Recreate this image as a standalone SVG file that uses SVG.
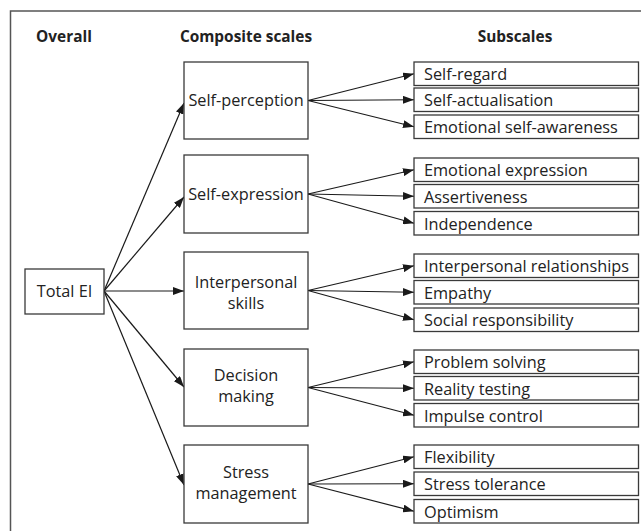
<svg xmlns="http://www.w3.org/2000/svg" width="641" height="531" viewBox="0 0 641 531">
<defs>
<marker id="ah" viewBox="0 0 11 8" refX="11" refY="4" markerWidth="11" markerHeight="8" markerUnits="userSpaceOnUse" orient="auto">
<path d="M0,0 L11,4 L0,8 Z" fill="#1a1a1a"/>
</marker>
<style>
.box{fill:#fff;stroke:#3a3a3a;stroke-width:1.3}
.t{font-family:"Open Sans","Liberation Sans",sans-serif;font-size:16.3px;fill:#222}
.c{text-anchor:middle}
.h{font-family:"Open Sans","Liberation Sans",sans-serif;font-size:15.4px;font-weight:bold;fill:#222}
.ln{stroke:#1a1a1a;stroke-width:1.2;fill:none;marker-end:url(#ah)}
</style>
</defs>
<rect width="641" height="531" fill="#fff"/>
<path d="M10.5,531 V11 H641" fill="none" stroke="#555" stroke-width="1.5"/>
<g id="headers">
<text class="h c" x="64" y="42">Overall</text>
<text class="h c" x="246" y="42">Composite scales</text>
<text class="h c" x="515" y="42">Subscales</text>
</g>
<g id="connectors">
<line class="ln" x1="104" y1="291" x2="184" y2="103"/>
<line class="ln" x1="104" y1="291" x2="184" y2="197"/>
<line class="ln" x1="104" y1="291" x2="184" y2="291"/>
<line class="ln" x1="104" y1="291" x2="184" y2="387"/>
<line class="ln" x1="104" y1="291" x2="184" y2="485"/>
<line class="ln" x1="308" y1="100.5" x2="414" y2="73.75"/>
<line class="ln" x1="308" y1="100.5" x2="414" y2="99.75"/>
<line class="ln" x1="308" y1="100.5" x2="414" y2="126.75"/>
<line class="ln" x1="308" y1="194" x2="414" y2="169.75"/>
<line class="ln" x1="308" y1="194" x2="414" y2="196.25"/>
<line class="ln" x1="308" y1="194" x2="414" y2="223.25"/>
<line class="ln" x1="308" y1="290.5" x2="414" y2="265.75"/>
<line class="ln" x1="308" y1="290.5" x2="414" y2="292.25"/>
<line class="ln" x1="308" y1="290.5" x2="414" y2="319.75"/>
<line class="ln" x1="308" y1="387.5" x2="414" y2="361.75"/>
<line class="ln" x1="308" y1="387.5" x2="414" y2="388.25"/>
<line class="ln" x1="308" y1="387.5" x2="414" y2="415.25"/>
<line class="ln" x1="308" y1="484" x2="414" y2="456.75"/>
<line class="ln" x1="308" y1="484" x2="414" y2="483.75"/>
<line class="ln" x1="308" y1="484" x2="414" y2="511.25"/>
</g>
<g id="total-ei"><rect class="box" x="25" y="269" width="79" height="45"/><text class="t c" x="64.5" y="297">Total EI</text></g>
<g id="self-perception"><rect class="box" x="184" y="62" width="124" height="77"/><text class="t c" x="246" y="106">Self-perception</text></g>
<g id="self-expression"><rect class="box" x="184" y="155" width="124" height="78"/><text class="t c" x="246" y="200">Self-expression</text></g>
<g id="interpersonal-skills"><rect class="box" x="184" y="252" width="124" height="77"/><text class="t c" x="246" y="288">Interpersonal</text><text class="t c" x="246" y="309">skills</text></g>
<g id="decision-making"><rect class="box" x="184" y="349" width="124" height="77"/><text class="t c" x="246" y="381">Decision</text><text class="t c" x="246" y="402">making</text></g>
<g id="stress-management"><rect class="box" x="184" y="445" width="124" height="78"/><text class="t c" x="246" y="478">Stress</text><text class="t c" x="246" y="499">management</text></g>
<g id="self-regard"><rect class="box" x="414" y="62" width="224.5" height="23.5"/><text class="t" x="424" y="80">Self-regard</text></g>
<g id="self-actualisation"><rect class="box" x="414" y="88" width="224.5" height="23.5"/><text class="t" x="424" y="106">Self-actualisation</text></g>
<g id="emotional-self-awareness"><rect class="box" x="414" y="115" width="224.5" height="23.5"/><text class="t" x="424" y="133">Emotional self-awareness</text></g>
<g id="emotional-expression"><rect class="box" x="414" y="158" width="224.5" height="23.5"/><text class="t" x="424" y="176">Emotional expression</text></g>
<g id="assertiveness"><rect class="box" x="414" y="184.5" width="224.5" height="23.5"/><text class="t" x="424" y="202.5">Assertiveness</text></g>
<g id="independence"><rect class="box" x="414" y="211.5" width="224.5" height="23.5"/><text class="t" x="424" y="229.5">Independence</text></g>
<g id="interpersonal-relationships"><rect class="box" x="414" y="254" width="224.5" height="23.5"/><text class="t" x="424" y="272">Interpersonal relationships</text></g>
<g id="empathy"><rect class="box" x="414" y="280.5" width="224.5" height="23.5"/><text class="t" x="424" y="298.5">Empathy</text></g>
<g id="social-responsibility"><rect class="box" x="414" y="308" width="224.5" height="23.5"/><text class="t" x="424" y="326">Social responsibility</text></g>
<g id="problem-solving"><rect class="box" x="414" y="350" width="224.5" height="23.5"/><text class="t" x="424" y="368">Problem solving</text></g>
<g id="reality-testing"><rect class="box" x="414" y="376.5" width="224.5" height="23.5"/><text class="t" x="424" y="394.5">Reality testing</text></g>
<g id="impulse-control"><rect class="box" x="414" y="403.5" width="224.5" height="23.5"/><text class="t" x="424" y="421.5">Impulse control</text></g>
<g id="flexibility"><rect class="box" x="414" y="445" width="224.5" height="23.5"/><text class="t" x="424" y="463">Flexibility</text></g>
<g id="stress-tolerance"><rect class="box" x="414" y="472" width="224.5" height="23.5"/><text class="t" x="424" y="490">Stress tolerance</text></g>
<g id="optimism"><rect class="box" x="414" y="499.5" width="224.5" height="23.5"/><text class="t" x="424" y="517.5">Optimism</text></g>
</svg>
